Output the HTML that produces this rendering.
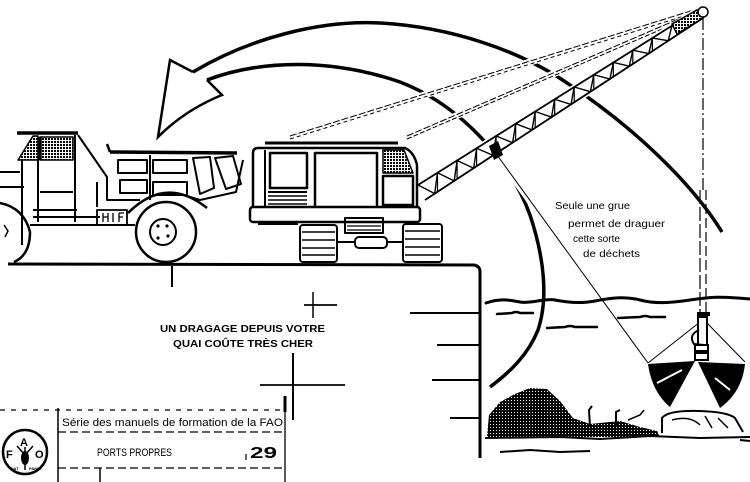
<!DOCTYPE html>
<html><head><meta charset="utf-8"><style>
html,body{margin:0;padding:0;background:#fff;}
svg{display:block;}
text{font-family:"Liberation Sans",Arial,sans-serif;fill:#000;}
</style></head><body>
<svg width="750" height="482" viewBox="0 0 750 482" xmlns="http://www.w3.org/2000/svg">
<defs>
<pattern id="h" width="3" height="3" patternUnits="userSpaceOnUse"><rect width="3" height="3" fill="#fff"/><rect width="2" height="2" fill="#000"/></pattern>
<pattern id="d" width="3" height="3" patternUnits="userSpaceOnUse"><rect width="3" height="3" fill="#000"/><rect x="1" y="1" width="1" height="1" fill="#fff"/></pattern>
</defs>
<rect width="750" height="482" fill="#fff"/>

<!-- Big arrow -->
<path d="M722,232 C690,180 630,125 570,85 C520,50 450,27 380,23 C320,20 250,38 193,72" fill="none" stroke="#000" stroke-width="3.5"/>
<path d="M193,72 L170,60 L158,137 Q185,110 222,95 L207,80" fill="none" stroke="#000" stroke-width="2.5" stroke-linejoin="miter"/>
<path d="M207,80 C260,60 330,58 400,82 C460,105 510,160 530,215 C545,260 548,300 538,330 C528,355 510,372 490,387" fill="none" stroke="#000" stroke-width="3.5"/>

<!-- cables from crane roof to tip (white underlay creates gaps) -->
<g stroke="#fff" stroke-width="7">
<line x1="290" y1="137" x2="697" y2="10"/>
<line x1="407" y1="137" x2="697" y2="12"/>
<line x1="497" y1="155" x2="600" y2="298"/>
</g>
<g stroke="#000" stroke-width="1" fill="none">
<line x1="290" y1="136" x2="697" y2="9" stroke-dasharray="7,2"/>
<line x1="290" y1="139" x2="697" y2="12" stroke-dasharray="4,3"/>
<line x1="407" y1="136" x2="697" y2="11" stroke-dasharray="7,2"/>
<line x1="407" y1="139" x2="697" y2="14" stroke-dasharray="5,2"/>
<line x1="497" y1="155" x2="648" y2="363"/>
</g>

<!-- Boom -->
<polygon points="418,185 697,10 703,18 425,200" fill="#fff" stroke="#fff" stroke-width="5"/>
<g stroke="#000" fill="none">
<line x1="418" y1="185" x2="697" y2="10" stroke-width="1.8"/>
<line x1="425" y1="200" x2="703" y2="18" stroke-width="1.8"/>
<polyline stroke-width="1.4" points="418,185 434.7,193.6 437.5,172.75 454.2,180.9 457.1,160.5 473.7,168.2 476.6,148.25 493.1,155.4 496.1,136 512.6,142.7 515.65,123.75 532,129.9 535.2,111.5 551.5,117.2 554.7,99.25 571,104.45 574.2,87 590.4,91.7 593.8,74.75 609.9,79 613.3,62.5 629.3,66.2 632.8,50.25 648.8,53.5 652.4,38 668.25,40.75 671.9,25.75"/>
<g stroke-width="1.2">
<line x1="437.5" y1="172.75" x2="437.5" y2="192"/>
<line x1="457.1" y1="160.5" x2="457.1" y2="179"/>
<line x1="476.6" y1="148.25" x2="476.6" y2="166"/>
<line x1="496.1" y1="136" x2="496.1" y2="154"/>
<line x1="515.65" y1="123.75" x2="515.65" y2="141"/>
<line x1="535.2" y1="111.5" x2="535.2" y2="128"/>
<line x1="554.7" y1="99.25" x2="554.7" y2="115"/>
<line x1="574.2" y1="87" x2="574.2" y2="103"/>
<line x1="593.8" y1="74.75" x2="593.8" y2="90"/>
<line x1="613.3" y1="62.5" x2="613.3" y2="77"/>
<line x1="632.8" y1="50.25" x2="632.8" y2="64"/>
<line x1="652.4" y1="38" x2="652.4" y2="52"/>
</g>
</g>
<polygon points="672,24 697,10 703,18 677,34" fill="url(#h)" stroke="#000" stroke-width="1.5"/>
<circle cx="703" cy="12" r="5" fill="#fff" stroke="#000" stroke-width="1.5"/>
<polygon points="489,146 498,141 503,155 494,160" fill="#000"/>

<!-- vertical hoist cable -->
<line x1="703" y1="18" x2="703" y2="190" stroke="#000" stroke-width="1.2" stroke-dasharray="12,3,2,3"/>
<line x1="700" y1="190" x2="700" y2="312" stroke="#000" stroke-width="1.2" stroke-dasharray="14,3"/>
<line x1="706" y1="190" x2="706" y2="312" stroke="#000" stroke-width="1.2" stroke-dasharray="10,4"/>

<!-- Truck -->
<g stroke="#000" stroke-width="2" fill="none" stroke-linejoin="round">
<line x1="0" y1="172" x2="20" y2="172"/>
<line x1="0" y1="187" x2="24" y2="187"/>
<line x1="22" y1="160" x2="22" y2="245"/>
<path d="M0,203 Q24,208 30,232 Q30,255 14,262" stroke-width="2.5"/>
<path d="M4,225 l4,6 l-3,6" stroke-width="1.5"/>
<line x1="17" y1="133" x2="78" y2="133" stroke-width="3.5"/>
<polygon points="18,160 33,136 38,136 38,160" fill="url(#h)" stroke-width="1.5"/>
<rect x="40" y="137" width="33" height="23" fill="url(#h)" stroke-width="1.5"/>
<line x1="40" y1="137" x2="40" y2="160" stroke-width="3.5"/>
<line x1="38" y1="160" x2="38" y2="222"/>
<line x1="75" y1="135" x2="75" y2="222"/>
<line x1="40" y1="192" x2="73" y2="192"/>
<line x1="33" y1="210" x2="77" y2="210"/>
<line x1="33" y1="217" x2="100" y2="217"/>
<line x1="30" y1="225" x2="135" y2="225"/>
<path d="M78,135 L107,177 L107,200 L140,200"/>
<line x1="97" y1="182" x2="97" y2="207"/>
<line x1="110" y1="152" x2="237" y2="153" stroke-width="3.5"/>
<line x1="107" y1="144" x2="110" y2="152" stroke-width="2.5"/>
<rect x="118" y="160" width="29" height="13"/>
<rect x="153" y="160" width="34" height="13"/>
<rect x="120" y="180" width="27" height="13"/>
<rect x="153" y="182" width="34" height="13"/>
<line x1="150" y1="155" x2="150" y2="200"/>
<polygon points="193,158 210,157 214,188 200,194"/>
<polygon points="215,158 233,156 241,184 226,189"/>
<path d="M187,196 L200,200 L236,192 L243,160"/>
<path d="M128,213 Q166,175 207,208" stroke-width="2.5"/>
<rect x="97" y="210" width="30" height="15" stroke-width="1.8"/>
<path d="M103,213 v9 M108,213 v9 M103,217 h5 M113,213 v9 M119,213 v9 M119,213 h5 M119,217 h4" stroke-width="1.3"/>
<circle cx="166" cy="232" r="30" stroke-width="2.5" fill="#fff"/>
<circle cx="163" cy="232" r="13" stroke-width="2"/>
</g>
<circle cx="158" cy="226" r="1.6" fill="#000"/>
<circle cx="167" cy="226" r="1.6" fill="#000"/>
<circle cx="168" cy="236" r="1.6" fill="#000"/>
<circle cx="158" cy="238" r="1.6" fill="#000"/>

<!-- Crane body -->
<g stroke="#000" stroke-width="2" fill="none" stroke-linejoin="round">
<line x1="265" y1="143" x2="398" y2="143" stroke-width="3"/>
<path d="M258,148 L405,148 Q414,152 417,165 L417,208 L253,208 L253,153 Q253,148 258,148 Z" fill="#fff" stroke-width="2.5"/>
<line x1="265" y1="150" x2="265" y2="206"/>
<rect x="270" y="153" width="37" height="35" stroke-width="2.5"/>
<line x1="268" y1="192" x2="307" y2="192"/>
<line x1="268" y1="196" x2="307" y2="196" stroke-width="1.5"/>
<line x1="268" y1="200" x2="307" y2="200" stroke-width="1.5"/>
<line x1="268" y1="204" x2="307" y2="204" stroke-width="1.5"/>
<rect x="315" y="153" width="62" height="55" stroke-width="2.5"/>
<polygon points="383,150 404,150 413,173 383,173" fill="url(#h)" stroke-width="1.5"/>
<rect x="383" y="176" width="30" height="29" stroke-width="2.5"/>
<rect x="250" y="207" width="170" height="15" rx="3" fill="#fff" stroke-width="2.5"/>
<line x1="258" y1="224" x2="298" y2="224"/>
<rect x="300" y="225" width="37" height="37" rx="3" fill="#fff"/>
<path d="M302,232 h33 M302,240 h33 M302,248 h33 M302,255 h33" stroke-width="1.5"/>
<rect x="403" y="224" width="39" height="38" rx="3" fill="#fff"/>
<path d="M405,231 h35 M405,239 h35 M405,247 h35 M405,255 h35" stroke-width="1.5"/>
<rect x="345" y="218" width="38" height="15"/>
<path d="M347,222 h34 M347,226 h34 M347,230 h34" stroke-width="1.3"/>
<rect x="355" y="237" width="32" height="11" rx="4"/>
<line x1="337" y1="242" x2="355" y2="242"/>
<line x1="387" y1="242" x2="403" y2="242"/>
</g>

<!-- ground & quay -->
<g stroke="#000" fill="none">
<path d="M8,264 L474,265 Q480,266 480,272 L480,458" stroke-width="3"/>
<line x1="410" y1="313" x2="480" y2="313" stroke-width="2"/>
<line x1="437" y1="345" x2="480" y2="345" stroke-width="2"/>
<line x1="432" y1="380" x2="480" y2="380" stroke-width="2"/>
<line x1="450" y1="418" x2="480" y2="418" stroke-width="2"/>
<line x1="172" y1="266" x2="172" y2="287" stroke-width="2"/>
<line x1="304" y1="305" x2="337" y2="305" stroke-width="1.8"/>
<line x1="313" y1="292" x2="313" y2="318" stroke-width="1.5"/>
<line x1="260" y1="385" x2="345" y2="385" stroke-width="1.8"/>
<line x1="293" y1="353" x2="293" y2="420" stroke-width="2"/>
</g>

<text x="160" y="332" font-size="10.5" font-weight="bold" textLength="165" lengthAdjust="spacingAndGlyphs">UN DRAGAGE DEPUIS VOTRE</text>
<text x="173" y="347" font-size="10.5" font-weight="bold" textLength="140" lengthAdjust="spacingAndGlyphs">QUAI COÛTE TRÈS CHER</text>

<text x="555" y="209" font-size="10" textLength="75" lengthAdjust="spacingAndGlyphs">Seule une grue</text>
<text x="568" y="227" font-size="10" textLength="97" lengthAdjust="spacingAndGlyphs">permet de draguer</text>
<text x="573" y="242" font-size="10" textLength="47" lengthAdjust="spacingAndGlyphs">cette sorte</text>
<text x="583" y="257" font-size="10" textLength="57" lengthAdjust="spacingAndGlyphs">de déchets</text>

<!-- water -->
<g stroke="#000" fill="none" stroke-linecap="round">
<path d="M486,303 C500,298 510,300 520,302 S545,298 555,300 S580,304 595,301 S625,296 640,300 S670,303 690,300 S720,296 750,299" stroke-width="3"/>
<path d="M497,314 L512,313 Q516,311 520,313 L533,313" stroke-width="2.5"/>
<path d="M547,328 L565,327 Q570,325 575,327 L597,327" stroke-width="2.5"/>
<path d="M618,318 L640,317 Q645,315 650,317 L665,317" stroke-width="2.5"/>
</g>

<!-- bucket -->
<g stroke="#000" fill="none">
<line x1="700" y1="322" x2="648" y2="363" stroke-width="1"/>
<line x1="707" y1="323" x2="745" y2="362" stroke-width="1"/>
<rect x="697" y="312" width="13" height="4" fill="#000" stroke="none"/>
<rect x="698" y="317" width="9" height="28" stroke-width="2" fill="#fff"/>
<path d="M699,330 Q688,335 694,344 L704,345" stroke-width="2"/>
<rect x="695" y="345" width="13" height="15" stroke-width="2" fill="#fff"/>
</g>
<rect x="696" y="350" width="11" height="4" fill="#000"/>
<path d="M648,364 L695,361 L670,407 Q652,392 648,364 Z" fill="#000"/>
<path d="M698,362 L745,364 Q742,392 720,408 Z" fill="#000"/>
<line x1="657" y1="383" x2="682" y2="370" stroke="#fff" stroke-width="2"/>
<line x1="715" y1="378" x2="730" y2="390" stroke="#fff" stroke-width="2"/>

<!-- debris -->
<path d="M487,437 L489,415 L500,402 L515,394 L530,388 L547,389 L560,401 L573,418 L590,424 L620,421 L640,427 L657,431 L660,437 Z" fill="url(#d)"/>
<g stroke="#000" fill="none">
<path d="M590,427 L589,410 L592,406" stroke-width="2"/>
<path d="M616,426 L616,412 L620,410" stroke-width="2"/>
<path d="M628,420 L640,415 L644,410" stroke-width="1.5"/>
<path d="M662,433 L662,418 Q668,410 700,411 Q728,412 735,418 L743,432" stroke-width="2" fill="#fff"/>
<path d="M672,420 Q690,415 700,425 M705,416 L712,428 M718,418 L728,428" stroke-width="1.5"/>
<path d="M485,438 L560,437 L600,439 L650,436 L700,438 L750,437" stroke-width="2"/>
<path d="M500,452 L530,450 L560,452 L590,451" stroke-width="2"/>
<path d="M740,440 L750,441" stroke-width="2"/>
</g>

<!-- footer -->
<g stroke="#000" fill="none">
<line x1="0" y1="410" x2="285" y2="410" stroke-width="1.3" stroke-dasharray="5,6"/>
<line x1="58" y1="408" x2="58" y2="482" stroke-width="1.5"/>
<line x1="285" y1="396" x2="285" y2="412" stroke-width="3"/>
<line x1="285" y1="412" x2="285" y2="482" stroke-width="1.3"/>
<line x1="58" y1="432" x2="285" y2="432" stroke-width="1.3" stroke-dasharray="8,4"/>
<line x1="58" y1="468" x2="285" y2="468" stroke-width="1.3" stroke-dasharray="8,4"/>
<line x1="100" y1="468" x2="100" y2="482" stroke-width="1.5"/>
<line x1="246" y1="454" x2="246" y2="460" stroke-width="1.2"/>
</g>
<text x="62" y="426" font-size="11" textLength="221" lengthAdjust="spacingAndGlyphs">Série des manuels de formation de la FAO</text>
<text x="97" y="456" font-size="11" textLength="75" lengthAdjust="spacingAndGlyphs">PORTS PROPRES</text>
<text x="250" y="458" font-size="16" font-weight="bold" textLength="27" lengthAdjust="spacingAndGlyphs">29</text>

<!-- FAO logo -->
<circle cx="25" cy="452" r="22" fill="none" stroke="#000" stroke-width="2.5"/>
<text x="20" y="446" font-size="11" font-weight="bold">A</text>
<text x="6" y="458" font-size="11" font-weight="bold">F</text>
<text x="35" y="458" font-size="11" font-weight="bold">O</text>
<ellipse cx="25" cy="458" rx="4" ry="7" fill="#000"/>
<path d="M25,447 L25,470 M17,446 L25,455 M33,446 L25,455" stroke="#000" stroke-width="1.5" fill="none"/>
<text x="10" y="470" font-size="4" font-weight="bold">FIAT</text>
<text x="29" y="470" font-size="4" font-weight="bold">PANIS</text>
</svg>
</body></html>
